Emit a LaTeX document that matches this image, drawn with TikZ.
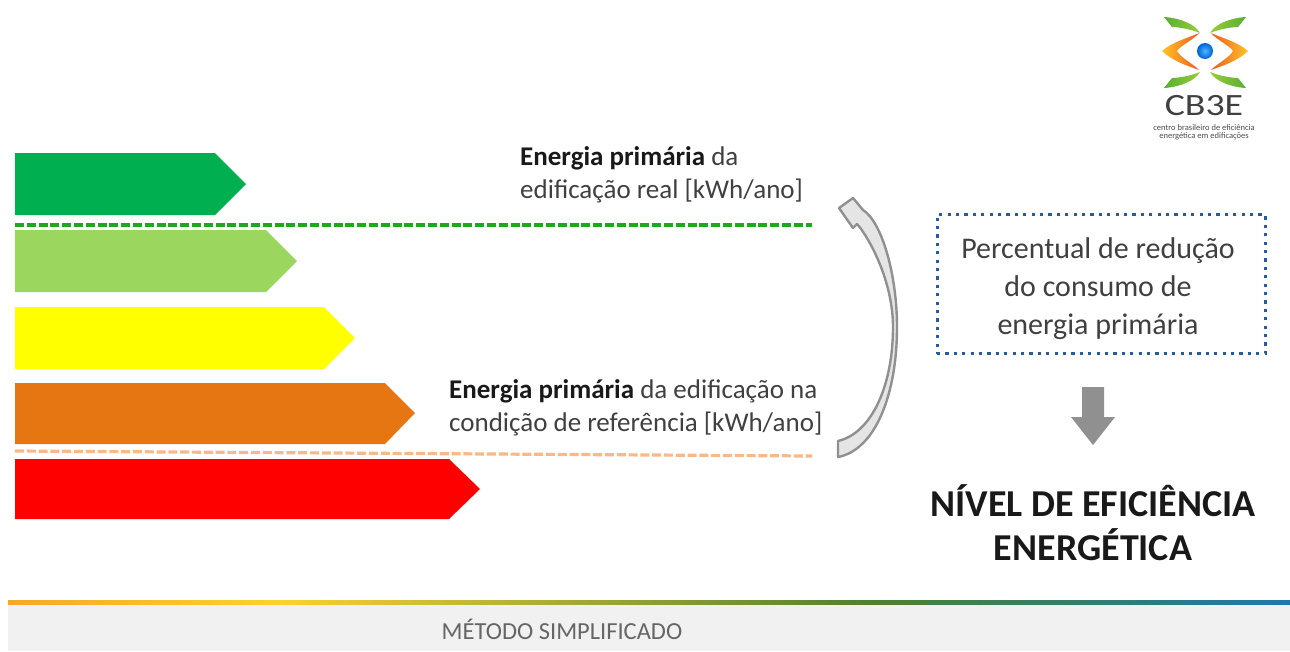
\documentclass[tikz,border=0pt]{standalone}
\usepackage{fontspec}
\setmainfont{Carlito}
\usetikzlibrary{calc}
\definecolor{cA}{HTML}{00B050}
\definecolor{cB}{HTML}{9BD65F}
\definecolor{cC}{HTML}{FFFF00}
\definecolor{cD}{HTML}{E67612}
\definecolor{cE}{HTML}{FF0000}
\definecolor{txt}{HTML}{404040}
\definecolor{dashB}{HTML}{2A5A9E}
\definecolor{dashG}{HTML}{1DA81D}
\definecolor{dashO}{HTML}{F8B888}
\definecolor{arrowG}{HTML}{909090}
\definecolor{bandA}{HTML}{F7A823}
\definecolor{bandB}{HTML}{F9D230}
\definecolor{bandC}{HTML}{4F8030}
\definecolor{bandD}{HTML}{1A7AA8}
\definecolor{leafD}{HTML}{55B030}
\definecolor{leafL}{HTML}{9CCB3C}
\definecolor{flameY}{HTML}{FFC525}
\definecolor{flameR}{HTML}{EE5A20}
\tikzset{
  lbl/.style={font=\fontsize{27}{33}\selectfont,text=txt,align=left,anchor=north west,inner sep=0pt},
  ctr/.style={font=\fontsize{30}{38}\selectfont,text=txt,align=center,inner sep=0pt},
  big/.style={font=\fontsize{38}{44}\selectfont\bfseries,text=black!90,align=center,inner sep=0pt},
  ddash/.style={line width=3.2pt,dash pattern=on 9pt off 2.8pt}
}
\begin{document}
\begin{tikzpicture}[x=1pt,y=-1pt]
\useasboundingbox (0,0) rectangle (1290,651);
\fill[white] (0,0) rectangle (1290,651);
% bars
\fill[cA] (15,153) -- (215,153) -- (246,184) -- (215,215) -- (15,215) -- cycle;
\fill[cB] (15,230) -- (266,230) -- (297,261) -- (266,292) -- (15,292) -- cycle;
\fill[cC] (15,307) -- (324,307) -- (355,338) -- (324,369) -- (15,369) -- cycle;
\fill[cD] (15,383) -- (385,383) -- (415,413) -- (385,444) -- (15,444) -- cycle;
\fill[cE] (15,459) -- (449,459) -- (480,489) -- (449,519) -- (15,519) -- cycle;
% dashed lines
\coordinate (gA) at (15,225); \coordinate (gB) at (812,225);
\draw[dashG,ddash] (gA) -- (gB);
\coordinate (oA) at (15,451); \coordinate (oB) at (812,456);
\draw[dashO,ddash] (oA) -- (oB);
% labels
\node[lbl] (real) at (520,146) {{\color{black!90}\textbf{Energia primária}} da\\edificação real [kWh/ano]};
\node[lbl] (ref) at (449,379.5) {{\color{black!90}\textbf{Energia primária}} da edificação na\\condição de referência [kWh/ano]};
% curved arrow
\draw[arrowG,line width=2.4pt,fill=black!10,line join=round]
  (838,441) .. controls (872,433) and (893,385) .. (893,327)
  .. controls (893,280) and (868,236) .. (857,224)
  -- (853,228) -- (839,208) -- (853,198) -- (863,210)
  .. controls (882,222) and (897,275) .. (897,327)
  .. controls (897,395) and (875,450) .. (838,457) -- cycle;
% dotted box
\node[draw=dashB,line width=3pt,dash pattern=on 3.2pt off 5.2pt,minimum width=328pt,minimum height=139pt,inner sep=0pt] (box) at (1101,284) {};
\node[ctr] (boxtext) at (1098,288.5) {Percentual de redução\\do consumo de\\energia primária};
% down arrow
\fill[arrowG] (1082,387) -- (1104,387) -- (1104,417) -- (1115,417) -- (1093,445) -- (1071,417) -- (1082,417) -- cycle;
\node[big] (nivel) at (1093,523) {NÍVEL DE EFICIÊNCIA\\ENERGÉTICA};
% footer
\fill[black!5.5] (8,603) rectangle (1290,651);
\shade[left color=bandA,right color=bandB] (8,600.5) rectangle (280,604.5);
\shade[left color=bandB,right color=bandC] (280,600.5) rectangle (870,604.5);
\shade[left color=bandC,right color=bandD] (870,600.5) rectangle (1290,604.5);
\node[font=\fontsize{24.5}{26}\selectfont,text=black!60,inner sep=0pt] (metodo) at (562,629) {MÉTODO SIMPLIFICADO};
% logo
\shade[left color=leafD,right color=leafL] (1164,17) .. controls (1180,18) and (1195,24) .. (1200,33) .. controls (1190,29) and (1178,27) .. (1172,27) -- cycle;
\shade[left color=leafL,right color=leafD] (1246,17) .. controls (1230,18) and (1215,24) .. (1210,33) .. controls (1220,29) and (1232,27) .. (1238,27) -- cycle;
\shade[left color=leafD,right color=leafL] (1164,88) .. controls (1180,87) and (1195,81) .. (1200,72) .. controls (1190,76) and (1178,78) .. (1172,78) -- cycle;
\shade[left color=leafL,right color=leafD] (1246,88) .. controls (1230,87) and (1215,81) .. (1210,72) .. controls (1220,76) and (1232,78) .. (1238,78) -- cycle;
\shade[left color=flameY,right color=flameR] (1162,51) .. controls (1172,42) and (1188,38) .. (1199,33) .. controls (1192,41) and (1181,45) .. (1177,51) .. controls (1181,58) and (1192,63) .. (1199,70) .. controls (1188,66) and (1172,61) .. (1162,51) -- cycle;
\shade[left color=flameR,right color=flameY] (1248,51) .. controls (1238,42) and (1222,38) .. (1211,33) .. controls (1218,41) and (1229,45) .. (1233,51) .. controls (1229,58) and (1218,63) .. (1211,70) .. controls (1222,66) and (1238,61) .. (1248,51) -- cycle;
\shade[inner color=cyan!60!blue!70,outer color=blue!55!cyan!85!black] (1205,51) circle (8pt);
\node[font=\fontsize{31}{31}\selectfont,text=black!75,inner sep=0pt] (cb) at (1204,106) {\scalebox{1.22}[1]{CB3E}};
\node[font=\fontsize{8.5}{7.5}\selectfont,text=black!70,align=center,inner sep=0pt] (sub) at (1204,132.5) {centro brasileiro de eficiência\\energética em edificações};
\end{tikzpicture}
\end{document}
